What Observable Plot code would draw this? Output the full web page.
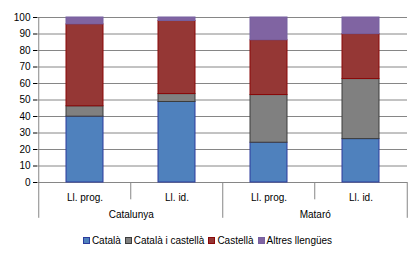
<!DOCTYPE html>
<html><head><meta charset="utf-8">
<script src="https://cdn.jsdelivr.net/npm/d3@7"></script>
<script src="https://cdn.jsdelivr.net/npm/@observablehq/plot@0.6"></script>
<style>
body{margin:0;background:#fff;font-family:"Liberation Sans",Arial,sans-serif;}
#chart svg{display:block;}
#legend{display:flex;justify-content:center;align-items:center;gap:4px;font-size:10px;color:#000;height:20px;margin-left:-3px;}
#legend span.item{display:inline-flex;align-items:center;}
#legend span.sw{display:inline-block;width:5px;height:5px;border:1px solid;margin-right:2px;}
</style></head><body>
<div id="chart"></div>
<div id="legend"></div>
<script>
const groups = ["Catalunya", "Catalunya", "Mataró", "Mataró"];
const indicators = ["Ll. prog.", "Ll. id.", "Ll. prog.", "Ll. id."];
const series = ["Català", "Català i castellà", "Castellà", "Altres llengües"];
const catala = [39.9, 48.8, 24.1, 26.3];
const catalaCastella = [6.3, 4.8, 28.9, 36.4];
const castella = [49.6, 44.3, 33.2, 27.2];
const altres = [4.2, 2.1, 13.8, 10.1];
const yTicks = [0, 10, 20, 30, 40, 50, 60, 70, 80, 90, 100];
const fills = ["#4F81BD", "#808080", "#953735", "#8064A2"];
const strokes = ["#2C3B9C", "#3C3C3C", "#8A0808", "#7660A0"];

const values = [catala, catalaCastella, castella, altres];
const keys = groups.map((g, i) => g + "|" + indicators[i]);
const rows = [];
keys.forEach((k, i) => {
  series.forEach((s, j) => {
    rows.push({key: k, series: s, value: values[j][i], fill: fills[j], stroke: strokes[j]});
  });
});
const cats = keys.map((k, i) => ({key: k, label: indicators[i]}));
const groupStarts = keys.filter((k, i) => i === 0 || groups[i] !== groups[i - 1])
  .map(k => ({key: k, label: k.split("|")[0]}));
const half = 370 / 4 / 2;
const grid = "#868686";

const chart = Plot.plot({
  width: 418,
  height: 230,
  marginTop: 17,
  marginBottom: 48,
  marginLeft: 37,
  marginRight: 11,
  style: {fontFamily: "'Liberation Sans', Arial, sans-serif", fontSize: "10px", color: "#000", background: "#fff"},
  x: {domain: keys, paddingInner: 0.6, paddingOuter: 0.3, align: 0.5, axis: null},
  y: {domain: [0, 100], ticks: yTicks, tickSize: 4, tickPadding: 3, label: null},
  color: {type: "identity"},
  marks: [
    Plot.ruleY(yTicks, {stroke: grid, strokeWidth: 1}),
    Plot.ruleX([keys[0]], {x: d => d, y1: -21.7, y2: 100, dx: -half, stroke: grid}),
    Plot.ruleX(keys.slice(1), {x: d => d, y1: 0, y2: d => groups[keys.indexOf(d)] !== groups[keys.indexOf(d) - 1] ? -21.7 : -10.5, dx: -half, stroke: grid}),
    Plot.ruleX([keys[keys.length - 1]], {x: d => d, y1: 0, y2: -21.7, dx: half, stroke: grid}),
    Plot.barY(rows, {x: "key", y: "value", fill: "fill", stroke: "stroke", strokeWidth: 1}),
    Plot.text(cats, {x: "key", y: -9.3, text: "label", fill: "#000"}),
    Plot.text(groupStarts, {x: "key", y: -19.4, dx: half, text: "label", fill: "#000"})
  ]
});
document.getElementById("chart").appendChild(chart);

const leg = document.getElementById("legend");
series.forEach((s, j) => {
  const it = document.createElement("span");
  it.className = "item";
  const sw = document.createElement("span");
  sw.className = "sw";
  sw.style.background = fills[j];
  sw.style.borderColor = strokes[j];
  it.appendChild(sw);
  it.appendChild(document.createTextNode(s));
  leg.appendChild(it);
});
</script>
</body></html>
